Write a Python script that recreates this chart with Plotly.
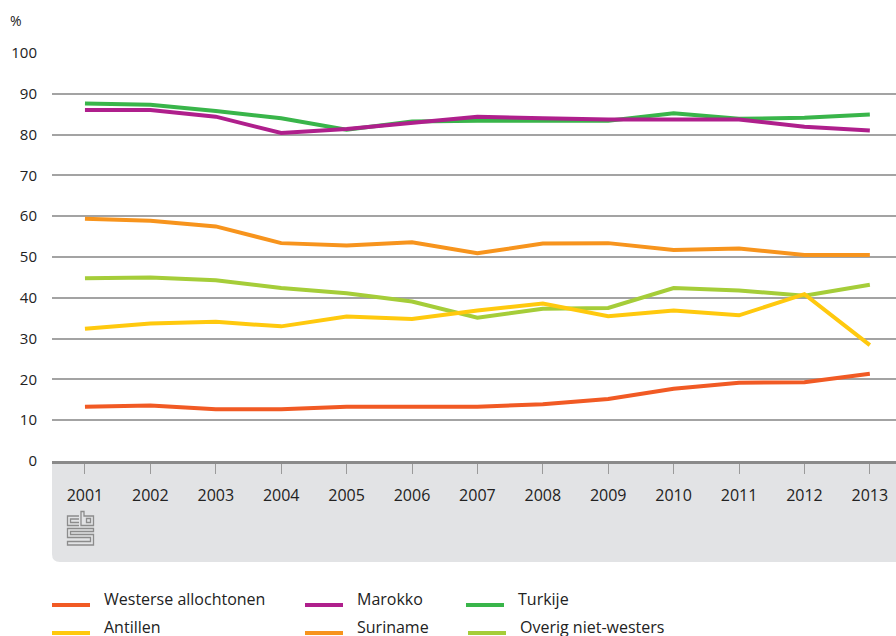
import plotly.graph_objects as go

# Share per group over the years (%)
years = [2001, 2002, 2003, 2004, 2005, 2006, 2007, 2008, 2009, 2010, 2011, 2012, 2013]
year_labels = [str(y) for y in years]

westerse = [13.3, 13.6, 12.7, 12.7, 13.3, 13.3, 13.3, 13.9, 15.2, 17.7, 19.2, 19.3, 21.4]
antillen = [32.4, 33.7, 34.1, 33.0, 35.4, 34.8, 36.9, 38.6, 35.5, 36.9, 35.7, 40.9, 28.4]
marokko = [86.0, 86.0, 84.4, 80.4, 81.4, 82.9, 84.4, 84.0, 83.7, 83.7, 83.7, 81.9, 81.0]
suriname = [59.4, 58.9, 57.5, 53.4, 52.8, 53.6, 50.9, 53.3, 53.4, 51.7, 52.1, 50.5, 50.5]
turkije = [87.6, 87.3, 85.8, 84.0, 81.2, 83.2, 83.4, 83.3, 83.4, 85.2, 83.9, 84.1, 84.9]
overig = [44.8, 45.0, 44.3, 42.4, 41.1, 39.1, 35.1, 37.3, 37.5, 42.4, 41.8, 40.5, 43.2]

names = ["Westerse allochtonen", "Antillen", "Marokko", "Suriname", "Turkije", "Overig niet-westers"]
colors = {
    "Westerse allochtonen": "#f15a24",
    "Antillen": "#ffc90e",
    "Marokko": "#af1f8c",
    "Suriname": "#f7941d",
    "Turkije": "#39b54a",
    "Overig niet-westers": "#a5cd39",
}
series = {
    "Westerse allochtonen": westerse,
    "Antillen": antillen,
    "Marokko": marokko,
    "Suriname": suriname,
    "Turkije": turkije,
    "Overig niet-westers": overig,
}
draw_order = ["Turkije", "Marokko", "Suriname", "Overig niet-westers", "Antillen", "Westerse allochtonen"]

FONT = "Open Sans"
TXT = "#222222"
W, H = 896, 636
PL, PT, PW, PH = 52, 53, 844, 408


def px(x):
    return (x - PL) / PW


def py(y):
    return (PT + PH - y) / PH


def path(points, close=False):
    s = "M " + " L ".join(f"{px(x):.5f},{py(y):.5f}" for x, y in points)
    return s + (" Z" if close else "")


fig = go.Figure()
for name in draw_order:
    fig.add_trace(go.Scatter(
        x=years, y=series[name], name=name, mode="lines",
        line=dict(color=colors[name], width=4),
        showlegend=False, hoverinfo="x+y+name",
    ))

shapes = []
# grey band under the x axis with rounded lower-left corner
band = (f"M {px(52):.5f},{py(461):.5f} L {px(896):.5f},{py(461):.5f} "
        f"L {px(896):.5f},{py(562):.5f} L {px(60):.5f},{py(562):.5f} "
        f"Q {px(52):.5f},{py(562):.5f} {px(52):.5f},{py(554):.5f} Z")
shapes.append(dict(type="path", xref="paper", yref="paper", path=band,
                   fillcolor="#e2e3e5", line=dict(width=0), layer="below"))

# cbs mark
logo_col = "#8c8c8c"
logo_paths = [
    path([(79, 516), (67.5, 516), (67.5, 525.5), (79, 525.5)]),
    path([(79, 519), (70.5, 519), (70.5, 522.5), (79, 522.5)]),
    path([(81, 511.5), (84, 511.5), (84, 516), (93.5, 516), (93.5, 525.5), (81, 525.5)], True),
    path([(86.5, 518.5), (90.5, 518.5), (90.5, 522.5), (86.5, 522.5)], True),
    path([(93.5, 528.5), (67.5, 528.5), (67.5, 537.5), (90.5, 537.5), (90.5, 541.5),
          (67.5, 541.5), (67.5, 545), (93.5, 545), (93.5, 534.5), (70.5, 534.5),
          (70.5, 531.5), (93.5, 531.5)], True),
]
for p in logo_paths:
    shapes.append(dict(type="path", xref="paper", yref="paper", path=p,
                       line=dict(color=logo_col, width=1.3), fillcolor="rgba(0,0,0,0)"))

# legend drawn as line samples + labels, three columns of two rows
legend_layout = [
    ("Westerse allochtonen", 52, 90, 104, 605, 599),
    ("Antillen", 52, 90, 104, 633, 627),
    ("Marokko", 305, 343, 357, 605, 599),
    ("Suriname", 305, 343, 357, 633, 627),
    ("Turkije", 466, 504, 518, 605, 599),
    ("Overig niet-westers", 468, 506, 520, 633, 627),
]
annotations = []
for name, x0, x1, tx, ly, ty in legend_layout:
    shapes.append(dict(type="line", xref="paper", yref="paper",
                       x0=px(x0), x1=px(x1), y0=py(ly), y1=py(ly),
                       line=dict(color=colors[name], width=4)))
    annotations.append(dict(xref="paper", yref="paper", x=px(tx - 2), y=py(ty),
                            xanchor="left", yanchor="middle", showarrow=False,
                            text=name, font=dict(family=FONT, size=16, color=TXT)))

annotations.append(dict(xref="paper", yref="paper", x=px(8), y=py(20),
                        xanchor="left", yanchor="middle", showarrow=False,
                        text="%", font=dict(family=FONT, size=14, color=TXT)))

fig.update_layout(
    width=W, height=H,
    margin=dict(l=PL, r=W - PL - PW, t=PT, b=H - PT - PH, pad=0),
    paper_bgcolor="white", plot_bgcolor="rgba(0,0,0,0)",
    font=dict(family=FONT, color=TXT),
    shapes=shapes, annotations=annotations,
    showlegend=False,
    xaxis=dict(
        range=[2000.496, 2013.4], tickvals=years, ticktext=year_labels,
        showgrid=False, zeroline=False,
        showline=True, linecolor="#8a8a8a", linewidth=3,
        ticks="outside", ticklen=10, tickwidth=1, tickcolor="#9a9a9a",
        tickfont=dict(family=FONT, size=16, color=TXT),
        ticklabelstandoff=8, fixedrange=True,
    ),
    yaxis=dict(
        range=[0, 100], dtick=10, tick0=0,
        showgrid=True, gridcolor="#a3a3a3", gridwidth=1.5,
        zeroline=False, showline=False,
        tickfont=dict(family=FONT, size=15, color=TXT),
        ticklabelstandoff=14, fixedrange=True,
    ),
)

fig.write_html("out.html")
